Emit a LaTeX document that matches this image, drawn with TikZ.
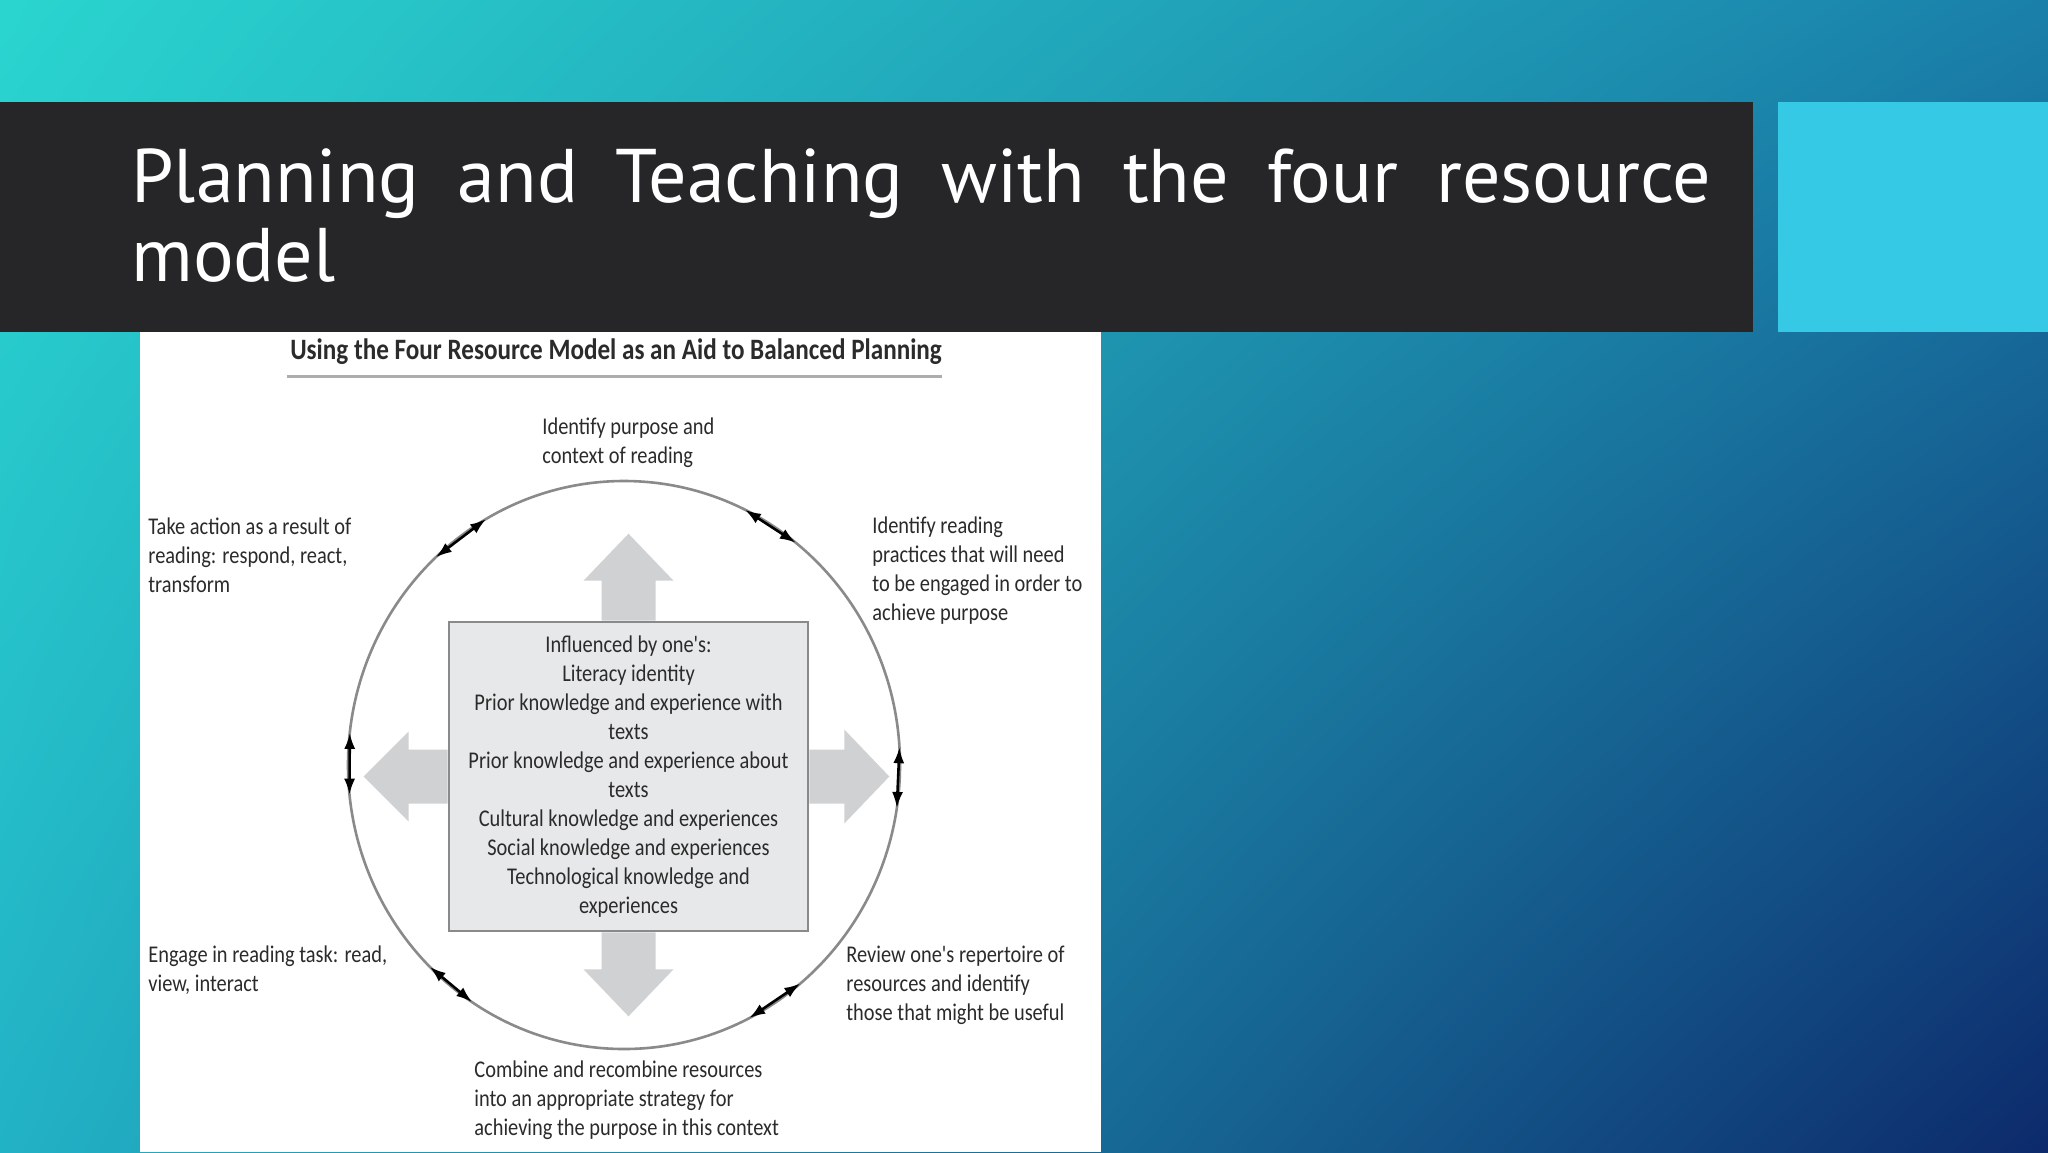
\documentclass[tikz,border=0pt]{standalone}
\usepackage{fontspec}
\setmainfont{Carlito}
\newfontfamily\figfont[FakeStretch=0.85]{Carlito}
\newfontfamily\titlefont{PT Sans}
\usetikzlibrary{arrows.meta, positioning, shadings}
\definecolor{bg_tl}{HTML}{2AD5CF}
\definecolor{bg_tr}{HTML}{1A80AA}
\definecolor{bg_bl}{HTML}{22B2C6}
\definecolor{bg_br}{HTML}{0D2A6B}
\definecolor{bar_black}{HTML}{262528}
\definecolor{tile_cyan}{HTML}{36C9E6}
\definecolor{fig_text}{HTML}{2B2B2B}
\definecolor{ring_gray}{HTML}{8A8A8A}
\definecolor{fat_gray}{HTML}{CFD1D3}
\definecolor{box_fill}{HTML}{E7E8E9}
\tikzstyle{step_label} = [font={\figfont\fontsize{12}{14.4}\selectfont}, align=left, inner sep=0pt, anchor=base west, text=fig_text]
\tikzstyle{center_box} = [rectangle, draw=ring_gray, line width=1.3pt, fill=box_fill, minimum width=179.5pt, minimum height=154.5pt, align=center, text=fig_text, font={\figfont\fontsize{12}{14.5}\selectfont}]
\tikzstyle{ring_arrow} = [line width=1.3pt, {Latex[length=8pt, width=5.5pt]}-{Latex[length=8pt, width=5.5pt]}]
\tikzstyle{fat_arrow} = [fill=fat_gray]

\begin{document}
\begin{tikzpicture}[x=0.5pt, y=-0.5pt]
\useasboundingbox (0,0) rectangle (2048,1152);
\shade[upper left=bg_tl, upper right=bg_tr, lower left=bg_bl, lower right=bg_br] (0,0) rectangle (2048,1152);
\fill[white] (140,332) rectangle (1101,1152);
\fill[bar_black] (0,102) rectangle (1753,332);
\fill[tile_cyan] (1778,102) rectangle (2048,332);

% Titel (base = letzte Zeile)
\node (title) [anchor=base west, inner sep=0pt, text=white, align=left, font={\titlefont\fontsize{38}{39.5}\selectfont}] at (131,281)
  {\makebox[790pt][s]{Planning and Teaching with the four resource}\\model};
\node (subtitle) [anchor=base, inner sep=0pt, text=fig_text, font={\figfont\bfseries\fontsize{14.8}{16}\selectfont}] at (616,359)
  {Using the Four Resource Model as an Aid to Balanced Planning};
\draw[ring_gray!70, line width=1.5pt] (subtitle.south west) ++(-3,12) coordinate (rule_a) -- (rule_a -| subtitle.south east);

% Kreis und Kasten
\coordinate (c) at (624,765);
\draw[ring_gray, line width=1.3pt] (c) ellipse [x radius=276, y radius=284];
\node (box) [center_box] at (628.5,776.5) {Influenced by one's:\\Literacy identity\\Prior knowledge and experience with\\texts\\Prior knowledge and experience about\\texts\\Cultural knowledge and experiences\\Social knowledge and experiences\\Technological knowledge and\\experiences};

% graue Pfeile
\fill[fat_arrow] (box.north) ++(-27,0) -- ++(0,-40) -- ++(-18,0) -- ++(45,-47) -- ++(45,47) -- ++(-18,0) -- ++(0,40) -- cycle;
\fill[fat_arrow] (box.south) ++(-27,0) -- ++(0,37) -- ++(-18,0) -- ++(45,47) -- ++(45,-47) -- ++(-18,0) -- ++(0,-37) -- cycle;
\fill[fat_arrow] (box.east) ++(0,-27) -- ++(35,0) -- ++(0,-20) -- ++(45,47) -- ++(-45,47) -- ++(0,-20) -- ++(-35,0) -- cycle;
\fill[fat_arrow] (box.west) ++(0,-27) -- ++(-39,0) -- ++(0,-18) -- ++(-45,45) -- ++(45,45) -- ++(0,-18) -- ++(39,0) -- cycle;

% Doppelpfeile auf dem Kreis
\path (c) ++(-133:276 and 284) coordinate (tl_a) (c) ++(-120:276 and 284) coordinate (tl_b);
\path (c) ++(-64:276 and 284) coordinate (tr_a) (c) ++(-51.5:276 and 284) coordinate (tr_b);
\path (c) ++(-173.5:276 and 284) coordinate (l_a) (c) ++(-186:276 and 284) coordinate (l_b);
\path (c) ++(-3.6:276 and 284) coordinate (r_a) (c) ++(8.7:276 and 284) coordinate (r_b);
\path (c) ++(-225.3:276 and 284) coordinate (bl_a) (c) ++(-236.6:276 and 284) coordinate (bl_b);
\path (c) ++(-297:276 and 284) coordinate (br_a) (c) ++(-309.7:276 and 284) coordinate (br_b);
\draw[ring_arrow] (tl_a) -- (tl_b);
\draw[ring_arrow] (tr_a) -- (tr_b);
\draw[ring_arrow] (l_a) -- (l_b);
\draw[ring_arrow] (r_a) -- (r_b);
\draw[ring_arrow] (bl_a) -- (bl_b);
\draw[ring_arrow] (br_a) -- (br_b);

% Beschriftungen (base = letzte Zeile)
\node (purpose) [step_label] at (542,463) {Identify purpose and\\context of reading};
\node (action) [step_label] at (148,592) {Take action as a result of\\reading: respond, react,\\transform};
\node (practices) [step_label] at (872,620) {Identify reading\\practices that will need\\to be engaged in order to\\achieve purpose};
\node (engage) [step_label] at (148,991) {Engage in reading task: read,\\view, interact};
\node (review) [step_label] at (846,1020) {Review one's repertoire of\\resources and identify\\those that might be useful};
\node (combine) [step_label] at (474,1135) {Combine and recombine resources\\into an appropriate strategy for\\achieving the purpose in this context};
\end{tikzpicture}
\end{document}
